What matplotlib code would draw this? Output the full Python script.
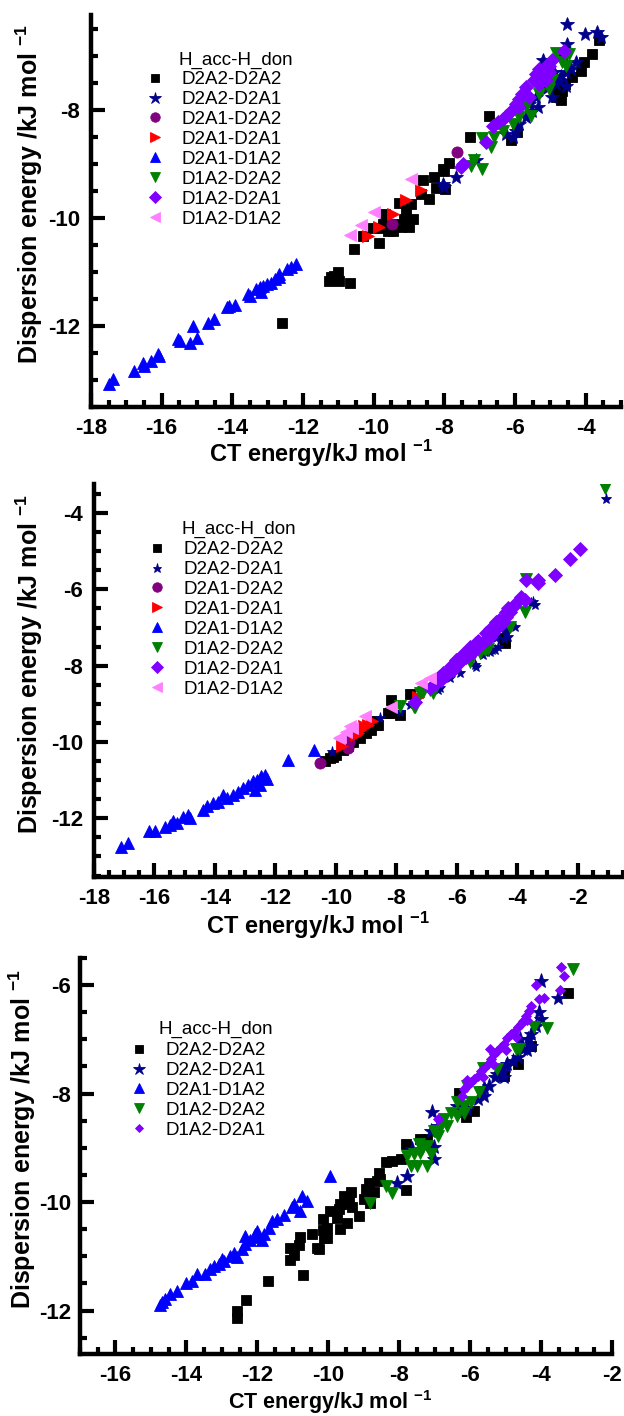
import matplotlib
matplotlib.use("Agg")
import matplotlib.pyplot as plt
from matplotlib.ticker import MultipleLocator

plt.rcParams['font.family'] = ['Liberation Sans', 'DejaVu Sans']
plt.rcParams['mathtext.fontset'] = 'custom'
plt.rcParams['mathtext.rm'] = 'Liberation Sans:bold'
plt.rcParams['mathtext.bf'] = 'Liberation Sans:bold'
plt.rcParams['axes.unicode_minus'] = False

# ---- data: (CT energy, dispersion energy) in kJ/mol ----
# panel 1
p1_d2a2_d2a2 = [(-12.58, -11.94), (-11.11, -11.07), (-11.20, -11.09), (-11.01, -11.01), (-11.25, -11.17),
                (-10.97, -11.17), (-10.66, -11.21), (-10.57, -10.57), (-9.86, -10.46), (-10.29, -10.33),
                (-10.03, -10.19), (-9.84, -10.19), (-9.69, -9.94), (-9.46, -10.24), (-9.37, -10.12),
                (-9.22, -10.17), (-9.13, -10.03), (-8.99, -10.18), (-8.90, -10.03), (-9.08, -9.84),
                (-8.94, -9.75), (-8.61, -9.31), (-8.66, -9.56), (-8.42, -9.65), (-8.28, -9.24),
                (-8.23, -9.45), (-9.27, -9.72), (-9.74, -10.12), (-9.60, -10.24), (-8.02, -9.13),
                (-7.97, -9.47), (-7.88, -8.99), (-8.05, -9.10), (-7.26, -8.51), (-6.73, -8.11),
                (-6.11, -8.57), (-5.94, -8.42), (-4.82, -7.68), (-4.70, -7.62), (-4.59, -7.52),
                (-4.66, -7.65), (-4.70, -7.83), (-4.85, -7.77), (-4.14, -7.28), (-4.05, -7.12),
                (-3.83, -6.98), (-3.62, -6.72), (-4.90, -7.70), (-4.40, -7.40)]
p1_d2a2_d2a1 = [(-4.52, -6.41), (-4.02, -6.60), (-3.67, -6.57), (-3.57, -6.66), (-4.52, -6.78),
                (-5.22, -7.08), (-4.28, -7.11), (-4.42, -7.25), (-4.56, -7.31), (-4.70, -7.37),
                (-4.75, -7.46), (-4.84, -7.52), (-4.56, -7.56), (-4.94, -7.77), (-5.41, -7.77),
                (-5.34, -7.96), (-5.51, -8.02), (-5.69, -8.14), (-5.88, -8.27), (-5.97, -8.39),
                (-6.26, -8.45), (-6.07, -8.51), (-7.10, -8.94), (-7.67, -9.25), (-8.05, -9.38),
                (-8.00, -9.44), (-5.10, -7.60), (-4.90, -7.30), (-4.60, -7.00), (-5.60, -7.90)]
p1_d2a1_d2a2 = [(-7.65, -8.78), (-9.48, -10.11)]
p1_d2a1_d2a1 = [(-8.66, -9.49), (-9.08, -9.67), (-9.46, -9.94), (-9.84, -10.17), (-10.17, -10.33)]
p1_d2a1_d1a2 = [(-17.50, -13.08), (-17.39, -12.99), (-16.77, -12.83), (-16.54, -12.68), (-16.49, -12.74),
                (-16.31, -12.65), (-16.11, -12.52), (-16.08, -12.56), (-15.55, -12.25), (-15.49, -12.28),
                (-15.21, -12.31), (-15.12, -12.00), (-15.01, -12.22), (-14.70, -11.94), (-14.51, -11.88),
                (-14.16, -11.66), (-14.08, -11.63), (-13.91, -11.61), (-13.57, -11.41), (-13.51, -11.44),
                (-13.34, -11.32), (-13.18, -11.38), (-13.23, -11.29), (-13.12, -11.26), (-13.01, -11.23),
                (-12.90, -11.20), (-12.79, -11.14), (-12.67, -11.04), (-12.67, -11.10), (-12.44, -10.95),
                (-12.33, -10.92), (-12.19, -10.86)]
p1_d1a2_d2a2 = [(-4.84, -6.96), (-4.47, -6.97), (-4.68, -7.12), (-4.56, -7.19), (-4.94, -7.46),
                (-5.03, -7.62), (-5.32, -7.71), (-5.69, -7.96), (-5.55, -8.11), (-5.88, -8.14),
                (-6.07, -8.27), (-6.35, -8.39), (-6.59, -8.51), (-6.92, -8.52), (-6.68, -8.70),
                (-7.15, -8.94), (-7.25, -9.04), (-6.94, -9.10)]
p1_d1a2_d2a1 = [(-4.61, -6.91), (-4.94, -7.09), (-5.13, -7.19), (-5.32, -7.25), (-5.41, -7.34),
                (-5.22, -7.40), (-5.03, -7.31), (-5.13, -7.46), (-5.32, -7.52), (-5.69, -7.59),
                (-5.79, -7.71), (-5.88, -7.80), (-5.97, -7.90), (-6.12, -8.02), (-6.26, -8.11),
                (-6.35, -8.17), (-6.49, -8.23), (-6.63, -8.31), (-5.60, -7.77), (-5.88, -7.96),
                (-6.82, -8.60), (-7.48, -9.01), (-7.53, -9.07), (-5.05, -7.20), (-5.45, -7.45)]
p1_d1a2_d1a2 = [(-8.94, -9.28), (-9.98, -9.90), (-10.35, -10.13), (-10.68, -10.31)]

# panel 2
p2_d2a2_d2a2 = [(-8.16, -8.90), (-8.21, -9.24), (-7.88, -9.29), (-7.55, -8.74), (-8.77, -9.46),
                (-8.66, -9.55), (-4.41, -7.41), (-4.47, -7.28), (-10.36, -10.51), (-10.20, -10.42),
                (-9.98, -10.33), (-9.76, -10.20), (-9.43, -9.99), (-9.21, -9.90), (-8.99, -9.77),
                (-8.82, -9.68), (-8.28, -9.24), (-8.73, -9.50), (-8.60, -9.55), (-10.10, -10.40),
                (-9.60, -10.10), (-4.40, -7.35)]
p2_d2a2_d2a1 = [(-1.05, -3.62), (-3.42, -6.41), (-3.53, -6.36), (-3.48, -6.32), (-4.08, -6.98),
                (-4.36, -7.15), (-4.69, -7.28), (-4.74, -7.59), (-4.91, -7.63), (-5.13, -7.72),
                (-5.40, -7.98), (-5.90, -8.20), (-6.23, -8.33), (-6.56, -8.59), (-7.55, -9.03),
                (-7.88, -9.20), (-8.55, -9.37), (-10.14, -10.25), (-9.65, -9.94), (-9.52, -9.89),
                (-6.63, -8.63), (-5.37, -8.03), (-5.04, -7.64), (-4.84, -7.59), (-4.64, -7.51),
                (-4.38, -7.06), (-4.45, -7.30), (-4.30, -7.25)]
p2_d2a1_d2a2 = [(-10.53, -10.54), (-9.60, -10.15), (-9.55, -10.00)]
p2_d2a1_d2a1 = [(-9.81, -10.10), (-9.25, -9.77), (-9.06, -9.59), (-8.93, -9.55), (-9.19, -9.68),
                (-8.79, -9.46), (-9.32, -9.81), (-7.29, -8.81)]
p2_d2a1_d1a2 = [(-17.12, -12.74), (-16.87, -12.65), (-16.17, -12.34), (-15.98, -12.32), (-15.65, -12.23),
                (-15.49, -12.17), (-15.38, -12.08), (-15.27, -12.12), (-15.05, -11.97), (-14.88, -11.91),
                (-14.83, -11.99), (-14.39, -11.77), (-14.27, -11.69), (-14.06, -11.60), (-13.89, -11.56),
                (-13.73, -11.38), (-13.61, -11.47), (-13.39, -11.38), (-13.23, -11.30), (-13.06, -11.21),
                (-12.90, -11.12), (-12.73, -11.03), (-12.62, -10.99), (-12.46, -10.90), (-12.35, -10.86),
                (-12.29, -10.97), (-12.68, -11.25), (-12.51, -11.12), (-11.58, -10.47), (-10.72, -10.20)]
p2_d1a2_d2a2 = [(-1.11, -3.35), (-3.75, -6.58), (-3.72, -5.72), (-7.22, -8.72), (-7.11, -8.68),
                (-7.88, -9.05), (-7.39, -9.07), (-6.89, -8.63), (-6.78, -8.72), (-6.01, -8.07),
                (-5.57, -7.89), (-5.24, -7.67), (-5.07, -7.59), (-4.25, -6.98), (-7.42, -9.07),
                (-4.98, -7.55)]
p2_d1a2_d2a1 = [(-1.93, -4.93), (-2.26, -5.19), (-2.76, -5.62), (-3.31, -5.75), (-3.31, -5.84),
                (-3.70, -5.75), (-3.86, -6.19), (-3.75, -6.28), (-4.03, -6.36), (-4.14, -6.45),
                (-4.25, -6.58), (-4.36, -6.71), (-4.47, -6.85), (-4.58, -6.93), (-4.69, -7.02),
                (-4.80, -7.15), (-4.91, -7.24), (-5.02, -7.32), (-5.13, -7.37), (-5.24, -7.46),
                (-5.35, -7.54), (-5.46, -7.63), (-5.57, -7.67), (-5.68, -7.76), (-5.79, -7.80),
                (-5.90, -7.89), (-6.01, -7.98), (-6.12, -8.11), (-6.23, -8.15), (-6.34, -8.24),
                (-6.51, -8.37), (-6.67, -8.46), (-6.89, -8.59), (-7.39, -8.94), (-5.35, -7.41),
                (-5.57, -7.50), (-4.36, -6.58), (-4.69, -6.85), (-5.02, -7.15), (-6.01, -7.85),
                (-6.45, -8.20), (-5.30, -7.35), (-4.90, -7.05), (-4.60, -6.80), (-4.30, -6.50),
                (-5.80, -7.70), (-6.20, -8.00), (-6.60, -8.30)]
p2_d1a2_d1a2 = [(-9.04, -9.33), (-8.16, -9.07), (-7.17, -8.46), (-6.89, -8.33), (-9.54, -9.59),
                (-9.85, -9.86), (-9.65, -9.73), (-9.45, -9.64), (-9.91, -9.90)]

# panel 3
p3_d2a2_d2a2 = [(-12.57, -12.01), (-12.56, -12.13), (-12.31, -11.81), (-11.70, -11.46), (-10.72, -11.35),
                (-11.09, -10.84), (-10.97, -10.98), (-11.09, -11.07), (-10.83, -10.80), (-10.79, -10.64),
                (-10.46, -10.59), (-10.31, -10.84), (-10.27, -10.87), (-10.13, -10.67), (-10.03, -10.66),
                (-10.14, -10.51), (-10.03, -10.47), (-10.14, -10.32), (-9.94, -10.16), (-9.75, -10.29),
                (-9.66, -10.50), (-9.47, -10.38), (-9.70, -10.13), (-9.56, -10.04), (-9.42, -9.92),
                (-9.37, -9.82), (-9.56, -9.89), (-9.32, -10.10), (-9.14, -10.26), (-9.00, -9.95),
                (-8.86, -9.64), (-8.71, -9.82), (-8.62, -9.61), (-8.57, -9.46), (-8.38, -9.27),
                (-8.95, -9.76), (-8.81, -10.01), (-3.25, -6.14), (-4.29, -7.12), (-4.66, -7.46),
                (-5.04, -7.67), (-5.89, -8.32), (-6.12, -8.44), (-6.31, -7.99), (-7.82, -8.93),
                (-7.40, -8.84), (-7.21, -8.84), (-8.19, -9.24), (-7.96, -9.21), (-8.53, -9.58),
                (-7.82, -9.78), (-9.66, -10.04)]
p3_d2a2_d2a1 = [(-4.01, -5.92), (-3.53, -6.23), (-4.05, -6.50), (-4.01, -6.63), (-4.29, -6.90),
                (-4.38, -7.00), (-4.29, -7.12), (-4.52, -7.18), (-4.66, -7.33), (-4.80, -7.40),
                (-4.95, -7.46), (-5.09, -7.61), (-5.04, -7.70), (-5.23, -7.64), (-5.47, -7.86),
                (-5.61, -8.04), (-5.79, -8.10), (-6.08, -8.29), (-6.27, -8.35), (-6.36, -8.23),
                (-7.07, -8.34), (-7.11, -8.69), (-6.92, -8.60), (-7.02, -8.99), (-7.02, -9.21),
                (-7.63, -9.03), (-7.77, -9.52), (-8.05, -9.64), (-4.15, -6.75), (-4.40, -7.20),
                (-4.60, -7.00), (-5.00, -7.50), (-5.30, -7.70), (-5.60, -7.90)]
p3_d2a1_d1a2 = [(-14.69, -11.85), (-14.60, -11.79), (-14.46, -11.70), (-14.27, -11.64), (-13.85, -11.46),
                (-13.70, -11.33), (-13.47, -11.33), (-13.33, -11.24), (-13.23, -11.18), (-13.09, -11.15),
                (-12.95, -11.09), (-12.76, -10.99), (-12.67, -10.93), (-12.57, -11.02), (-12.43, -10.87),
                (-12.34, -10.78), (-12.34, -10.63), (-12.20, -10.69), (-12.06, -10.59), (-12.01, -10.53),
                (-11.87, -10.69), (-11.82, -10.59), (-11.68, -10.47), (-11.59, -10.35), (-11.44, -10.32),
                (-11.26, -10.23), (-11.02, -10.10), (-10.97, -10.04), (-10.79, -10.16), (-10.74, -9.89),
                (-10.60, -9.98), (-9.94, -9.52), (-14.75, -11.90), (-14.00, -11.50), (-13.00, -11.05),
                (-12.10, -10.65)]
p3_d1a2_d2a2 = [(-3.11, -5.70), (-4.19, -6.78), (-3.84, -6.80), (-4.71, -7.18), (-5.65, -7.52),
                (-5.23, -7.55), (-6.08, -7.86), (-5.75, -7.98), (-6.36, -8.16), (-6.17, -8.23),
                (-5.98, -8.16), (-6.55, -8.35), (-6.36, -8.41), (-6.17, -8.35), (-6.74, -8.47),
                (-6.64, -8.60), (-6.83, -8.60), (-7.02, -8.69), (-6.92, -8.78), (-7.44, -8.93),
                (-7.21, -8.97), (-7.35, -9.03), (-7.77, -9.15), (-7.58, -9.12), (-7.40, -9.09),
                (-7.11, -9.12), (-7.68, -9.33), (-7.49, -9.33), (-7.21, -9.33), (-8.38, -9.70),
                (-8.19, -9.84), (-8.81, -10.01), (-4.63, -7.18)]
p3_d1a2_d2a1 = [(-3.44, -5.67), (-3.36, -5.84), (-4.15, -6.00), (-3.46, -6.10), (-4.05, -6.26),
                (-3.91, -6.23), (-4.29, -6.39), (-4.34, -6.47), (-4.43, -6.57), (-4.52, -6.66),
                (-4.57, -6.72), (-4.66, -6.78), (-4.76, -6.87), (-4.85, -6.90), (-4.95, -6.97),
                (-5.04, -7.09), (-5.14, -7.15), (-5.23, -7.21), (-5.32, -7.27), (-5.42, -7.37),
                (-5.44, -7.17), (-5.51, -7.46), (-5.61, -7.52), (-5.70, -7.58), (-5.79, -7.67),
                (-5.89, -7.73), (-5.98, -7.79), (-6.08, -7.86), (-6.17, -7.92), (-6.22, -8.04),
                (-6.08, -7.75), (-6.92, -8.47), (-4.70, -6.95), (-5.00, -7.20), (-5.35, -7.45),
                (-5.65, -7.70), (-4.40, -6.65)]

styles = {
    'D2A2-D2A2': ('s', 'black'),
    'D2A2-D2A1': ('*', '#00008b'),
    'D2A1-D2A2': ('o', '#800080'),
    'D2A1-D2A1': ('>', '#ff0000'),
    'D2A1-D1A2': ('^', '#0000ff'),
    'D1A2-D2A2': ('v', '#008000'),
    'D1A2-D2A1': ('D', '#8000ff'),
    'D1A2-D1A2': ('<', '#ff80ff'),
}

panels = [
    dict(rect=[0.1458, 0.7126, 0.8494, 0.2768], xlim=(-18, -3), ylim=(-13.5, -6.25),
         series=[('D2A2-D2A2', p1_d2a2_d2a2, 6.8), ('D2A2-D2A1', p1_d2a2_d2a1, 10.5),
                 ('D2A1-D2A2', p1_d2a1_d2a2, 8), ('D2A1-D2A1', p1_d2a1_d2a1, 8.5),
                 ('D2A1-D1A2', p1_d2a1_d1a2, 8.5), ('D1A2-D2A2', p1_d1a2_d2a2, 9),
                 ('D1A2-D2A1', p1_d1a2_d2a1, 7), ('D1A2-D1A2', p1_d1a2_d1a2, 8.5)],
         leg=(145.6, 71), title=(179, 60), ylab=(29, 194), xlab=(321, 454), xfs=17, ypad=8),
    dict(rect=[0.1506, 0.3806, 0.8478, 0.2775], xlim=(-18, -0.5), ylim=(-13.54, -3.24),
         series=[('D2A2-D2A2', p2_d2a2_d2a2, 6.8), ('D2A2-D2A1', p2_d2a2_d2a1, 8),
                 ('D2A1-D2A2', p2_d2a1_d2a2, 8), ('D2A1-D2A1', p2_d2a1_d2a1, 8.5),
                 ('D2A1-D1A2', p2_d2a1_d1a2, 8.5), ('D1A2-D2A2', p2_d1a2_d2a2, 8.5),
                 ('D1A2-D2A1', p2_d1a2_d2a1, 7), ('D1A2-D1A2', p2_d1a2_d1a2, 8.5)],
         leg=(147.6, 541), title=(181, 529), ylab=(29, 664), xlab=(318, 926), xfs=17, ypad=8),
    dict(rect=[0.1282, 0.0438, 0.8526, 0.2797], xlim=(-17, -2), ylim=(-12.8, -5.5),
         series=[('D2A2-D2A2', p3_d2a2_d2a2, 6.8), ('D2A2-D2A1', p3_d2a2_d2a1, 11),
                 ('D2A1-D1A2', p3_d2a1_d1a2, 8), ('D1A2-D2A2', p3_d1a2_d2a2, 8.5),
                 ('D1A2-D2A1', p3_d1a2_d2a1, 4.8)],
         leg=(129.6, 1042), title=(159, 1029), ylab=(22, 1139), xlab=(330, 1402), xfs=15.5, ypad=6.5),
]

W, H = 624, 1416
fig = plt.figure(figsize=(W / 100, H / 100), dpi=100)

for p in panels:
    ax = fig.add_axes(p['rect'])
    for name, pts, ms in p['series']:
        marker, color = styles[name]
        xs = [q[0] for q in pts]
        ys = [q[1] for q in pts]
        ax.plot(xs, ys, ls='none', marker=marker, ms=ms, color=color, mec=color, mew=0.6, label=name)
    ax.set_xlim(*p['xlim'])
    ax.set_ylim(*p['ylim'])
    ax.xaxis.set_major_locator(MultipleLocator(2))
    ax.xaxis.set_minor_locator(MultipleLocator(0.5))
    ax.yaxis.set_major_locator(MultipleLocator(2))
    ax.yaxis.set_minor_locator(MultipleLocator(0.5))
    for s in ['top', 'right']:
        ax.spines[s].set_visible(False)
    for s in ['left', 'bottom']:
        ax.spines[s].set_linewidth(3.2)
    ax.tick_params(which='major', direction='in', length=10, width=3, labelsize=16, pad=8)
    ax.tick_params(axis='y', which='major', pad=p['ypad'])
    ax.tick_params(which='minor', direction='in', length=5, width=3)
    for lab in ax.get_xticklabels() + ax.get_yticklabels():
        lab.set_fontweight('bold')

    lx, ly = p['leg']
    ax.legend(loc='upper left', bbox_to_anchor=(lx / W, 1 - ly / H), bbox_transform=fig.transFigure,
              frameon=False, fontsize=13.5, borderpad=0, borderaxespad=0, handlelength=1.0,
              handletextpad=0.9, labelspacing=0.15, numpoints=1, markerscale=0.85)
    tx, ty = p['title']
    fig.text(tx / W, 1 - ty / H, 'H_acc-H_don', fontsize=13.5, ha='left', va='center')
    yx, yy = p['ylab']
    fig.text(yx / W, 1 - yy / H, r'Dispersion energy /kJ mol $^{-1}$', fontsize=18,
             fontweight='bold', rotation=90, ha='center', va='center')
    xx, xy = p['xlab']
    fig.text(xx / W, 1 - xy / H, r'CT energy/kJ mol $^{-1}$', fontsize=p['xfs'],
             fontweight='bold', ha='center', va='center')

fig.savefig('out.png', dpi=100)
